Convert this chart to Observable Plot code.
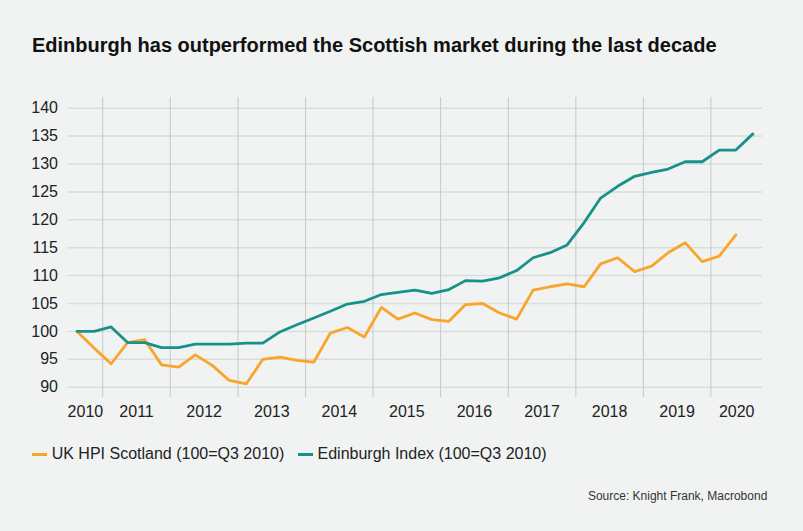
<!DOCTYPE html>
<html><head><meta charset="utf-8">
<script src="https://cdn.jsdelivr.net/npm/d3@7"></script>
<script src="https://cdn.jsdelivr.net/npm/@observablehq/plot@0.6"></script>
<style>
html,body{margin:0;padding:0;background:#f0f3f2;}
#wrap{position:relative;width:803px;height:531px;overflow:hidden;font-family:"Liberation Sans",Arial,sans-serif;background:#f0f3f2;}
#title{position:absolute;left:32px;top:35px;font-size:20px;line-height:20px;font-weight:bold;color:#111;white-space:nowrap;}
#chart{position:absolute;left:0;top:80px;}
.sw{position:absolute;height:3px;width:15px;top:452.5px;}
.lt{position:absolute;top:446px;font-size:16px;line-height:16px;color:#222;white-space:nowrap;}
#source{position:absolute;right:35.7px;top:490px;font-size:12px;line-height:12px;color:#333;white-space:nowrap;}
</style></head>
<body>
<div id="wrap">
  <div id="title"></div>
  <div id="chart"></div>
  <div id="legend"></div>
  <div id="source"></div>
</div>
<script>
const titleText = "Edinburgh has outperformed the Scottish market during the last decade";
const sourceText = "Source: Knight Frank, Macrobond";
const seriesNames = ["UK HPI Scotland (100=Q3 2010)", "Edinburgh Index (100=Q3 2010)"];
const colors = ["#f9a42a", "#18918a"];

// quarterly, starting Q3 2010
const startYear = 2010, startQuarter = 3;
const scotland = [100, 97.0, 94.2, 98.0, 98.5, 94.0, 93.6, 95.8, 93.9, 91.2,
  90.6, 95.0, 95.4, 94.8, 94.5, 99.7, 100.7, 99.0, 104.3, 102.2,
  103.3, 102.1, 101.8, 104.8, 105.0, 103.3, 102.2, 107.4, 108.0, 108.5,
  108.0, 112.1, 113.2, 110.7, 111.7, 114.1, 115.9, 112.5, 113.5, 117.3];
const edinburgh = [100, 100, 100.8, 98.0, 98.0, 97.1, 97.1, 97.7, 97.7, 97.7,
  97.9, 97.9, 99.9, 101.2, 102.4, 103.6, 104.9, 105.4, 106.6, 107.0,
  107.4, 106.8, 107.5, 109.1, 109.0, 109.6, 110.9, 113.2, 114.1, 115.5,
  119.5, 123.9, 126.0, 127.8, 128.5, 129.1, 130.4, 130.4, 132.5, 132.5, 135.4];
const yTicks = [90, 95, 100, 105, 110, 115, 120, 125, 130, 135, 140];
const yearLabels = [2010, 2011, 2012, 2013, 2014, 2015, 2016, 2017, 2018, 2019, 2020];

function quarterDate(i) {
  const q = startQuarter - 1 + i;
  const y = startYear + Math.floor(q / 4);
  const m = (q % 4) * 3 + 1; // middle month of quarter
  return new Date(Date.UTC(y, m, 15));
}
const scotData = scotland.map((v, i) => ({date: quarterDate(i), value: v}));
const edinData = edinburgh.map((v, i) => ({date: quarterDate(i), value: v}));

const xDomain = [new Date(Date.UTC(2010, 5, 27)), new Date(Date.UTC(2020, 9, 6))];
const yearStarts = yearLabels.slice(1).map(y => new Date(Date.UTC(y, 0, 1)));
// label sits at the centre of each year's visible span
const labelDates = yearLabels.map(y => {
  const a = Math.max(+new Date(Date.UTC(y, 0, 1)), +xDomain[0]);
  const b = Math.min(+new Date(Date.UTC(y + 1, 0, 1)), +xDomain[1]);
  return new Date((a + b) / 2);
});

const chart = Plot.plot({
  width: 803, height: 347,
  marginLeft: 67.5, marginRight: 41, marginTop: 17, marginBottom: 30,
  style: {background: "transparent", fontFamily: "'Liberation Sans', Arial, sans-serif", fontSize: "16px", color: "#222", overflow: "visible"},
  x: {type: "utc", domain: xDomain},
  y: {domain: [88.15, 141.92]},
  marks: [
    Plot.gridY(yTicks, {stroke: "#d9dddc", strokeOpacity: 1, strokeWidth: 1.5}),
    Plot.gridX(yearStarts, {stroke: "#c6c9c8", strokeOpacity: 1, strokeWidth: 1}),
    Plot.axisY(yTicks, {tickSize: 0, tickPadding: 10, fontSize: 16, label: null, fill: "#222"}),
    Plot.axisX(labelDates, {tickSize: 0, tickPadding: 8, fontSize: 16, label: null, fill: "#222", tickFormat: d => String(d.getUTCFullYear())}),
    Plot.line(scotData, {x: "date", y: "value", stroke: colors[0], strokeWidth: 2.8}),
    Plot.line(edinData, {x: "date", y: "value", stroke: colors[1], strokeWidth: 2.8})
  ]
});
document.getElementById("chart").appendChild(chart);
document.getElementById("title").textContent = titleText;
document.getElementById("source").textContent = sourceText;

const legend = document.getElementById("legend");
const swX = [32, 298], txX = [51.7, 317.5];
seriesNames.forEach((name, i) => {
  const sw = document.createElement("div");
  sw.className = "sw"; sw.style.left = swX[i] + "px"; sw.style.background = colors[i];
  const t = document.createElement("div");
  t.className = "lt"; t.style.left = txX[i] + "px"; t.textContent = name;
  legend.appendChild(sw); legend.appendChild(t);
});
</script>
</body></html>
